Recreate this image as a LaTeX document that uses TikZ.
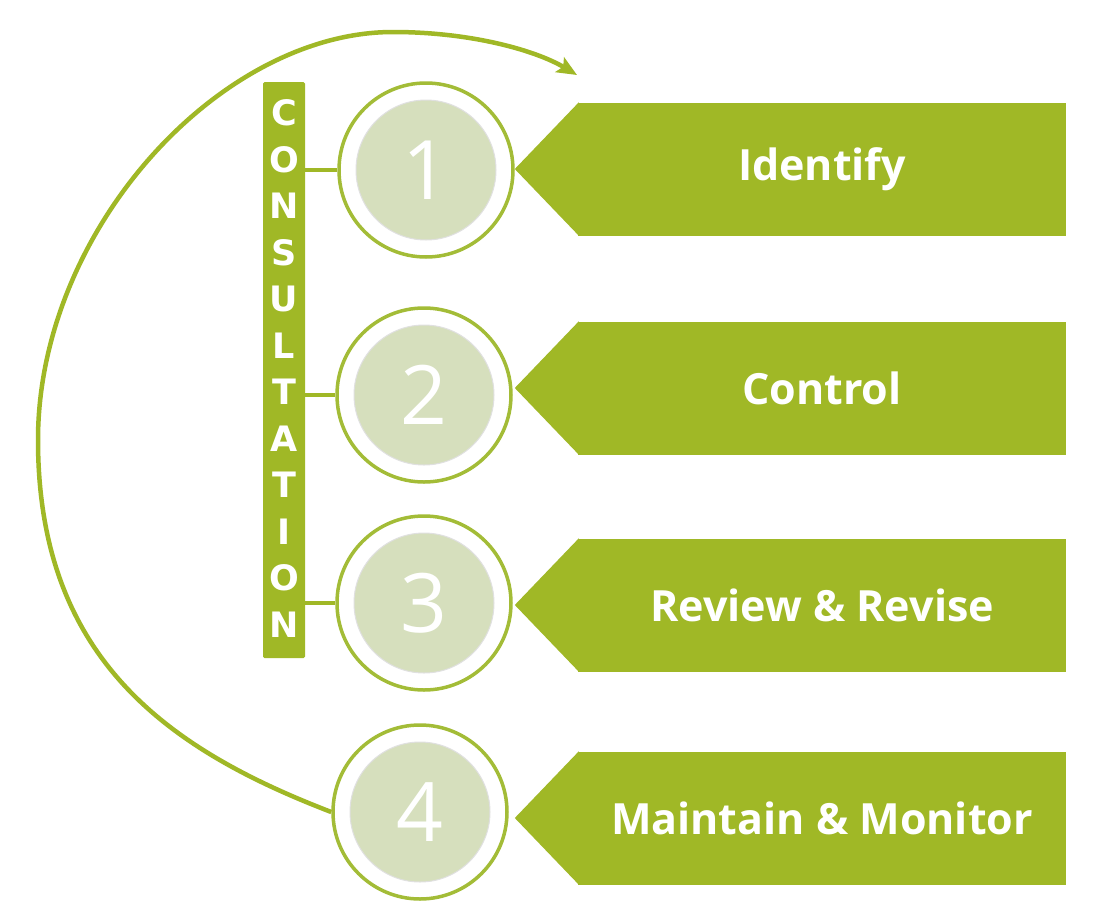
\documentclass[tikz,border=0pt]{standalone}
\usepackage{fontspec}
\setmainfont{Open Sans}
\newfontfamily\barfont{DejaVu Sans}
\newfontfamily\digitfont{Open Sans}
\usetikzlibrary{arrows.meta,calc}
\definecolor{gr}{RGB}{160,184,38}
\definecolor{ringc}{RGB}{163,188,55}
\definecolor{pale}{RGB}{214,223,189}
\begin{document}
\begin{tikzpicture}[x=1pt,y=-1pt,
  ringnode/.style={circle,draw=ringc,line width=3.5pt,fill=white,minimum size=174pt,inner sep=0pt},
  discnode/.style={circle,fill=pale,draw=black!12,line width=1pt,minimum size=140pt,inner sep=0pt,text=white,font=\digitfont\fontsize{82}{82}\selectfont},
  banner/.style={fill=gr,minimum width=488pt,minimum height=133pt,inner sep=0pt,text=white,font=\bfseries\fontsize{43}{50}\selectfont},
  barletter/.style={text=white,font=\barfont\bfseries\fontsize{35}{35}\selectfont,inner sep=0pt},
  linkline/.style={draw=gr,line width=4pt},
  cyclearrow/.style={draw=gr,line width=4.5pt,-{Stealth[length=20pt,width=17pt,inset=4pt]}}]
\useasboundingbox[fill=white] (0,0) rectangle (1096,919);

% outer rings
\node[ringnode] (c1) at (426,170) {};
\node[ringnode] (c2) at (424,395) {};
\node[ringnode] (c3) at (424,603) {};
\node[ringnode] (c4) at (420,812) {};

% cycle arrow
\coordinate (tip) at (577,75);
\draw[cyclearrow] (c4.west) .. controls (170,750) and (38,660) .. (38,440)
  .. controls (38,230) and (220,32) .. (393,32)
  .. controls (470,32) and (535,50) .. (tip);

% discs with digits
\node[discnode] (d1) at (c1) {1};
\node[discnode] (d2) at (c2) {2};
\node[discnode] (d3) at (c3) {3};
\node[discnode] (d4) at (c4) {4};

% consultation bar
\node[fill=gr,rounded corners=1.5pt,minimum width=42pt,minimum height=576pt,inner sep=0pt] (bar) at (284,370) {};
\foreach \ch [count=\i from 0] in {C,O,N,S,U,L,T,A,T,I,O,N}
  \node[barletter] (l\i) at (284,{113+46.5*\i}) {\ch};

% links
\draw[linkline] (c1.west) -- (c1.west -| bar.east);
\draw[linkline] (c2.west) -- (c2.west -| bar.east);
\draw[linkline] (c3.west) -- (c3.west -| bar.east);

% banners
\node[banner] (b1) at (822,169) {Identify};
\node[banner] (b2) at (822,388) {Control};
\node[banner] (b3) at (822,605) {Review \& Revise};
\node[banner] (b4) at (822,818) {Maintain \& Monitor};
\foreach \b in {b1,b2,b3,b4}
  \fill[gr] ($(\b.north west)+(1,0)$) -- ($(\b.west)+(-63,0)$) -- ($(\b.south west)+(1,0)$) -- cycle;
\end{tikzpicture}
\end{document}
